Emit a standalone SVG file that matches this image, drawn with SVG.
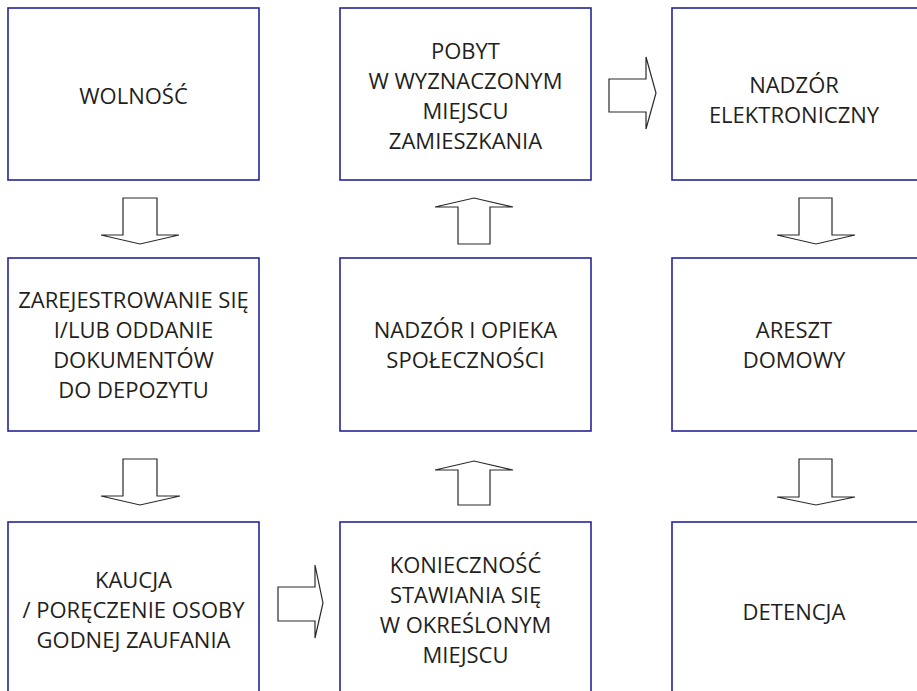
<svg xmlns="http://www.w3.org/2000/svg" width="917" height="691" viewBox="0 0 917 691">
<style>
.box{fill:#fff;stroke:#25259a;stroke-width:1.6}
.t{font-family:"Open Sans","Liberation Sans",sans-serif;font-size:22px;fill:#231f20;text-anchor:middle}
.arr{fill:#fff;stroke:#2a2a2a;stroke-width:1.2;stroke-linejoin:miter}
</style>
<rect width="917" height="691" fill="#fff"/>
<g id="connectors">
<polygon class="arr" points="123,198 157,198 157,235 179,235 140,244 101,235 123,235"/>
<polygon class="arr" points="123,459 157,459 157,496 180,496 140,505 101,496 123,496"/>
<polygon class="arr" points="458,244 490,244 490,207 513,207 474,198 435,207 458,207"/>
<polygon class="arr" points="458,505 490,505 490,470 513,470 474,461 435,470 458,470"/>
<polygon class="arr" points="799,198 832,198 832,235 855,235 816,244 777,235 799,235"/>
<polygon class="arr" points="799,459 832,459 832,497 855,497 816,505 777,497 799,497"/>
<polygon class="arr" points="609,79 646,79 646,57 656,93 646,129 646,112 609,112"/>
<polygon class="arr" points="278,587 315,587 315,565 323,603 315,638 315,621 278,621"/>
</g>
<g id="n-wolnosc"><rect class="box" x="8" y="8" width="251" height="172"/><text class="t" x="133.5" y="104">WOLNOŚĆ</text></g>
<g id="n-pobyt"><rect class="box" x="340" y="8" width="251" height="172"/><text class="t" x="465.5" y="59">POBYT</text><text class="t" x="465.5" y="89">W WYZNACZONYM</text><text class="t" x="465.5" y="119">MIEJSCU</text><text class="t" x="465.5" y="149">ZAMIESZKANIA</text></g>
<g id="n-nadzor-el"><rect class="box" x="672" y="8" width="251" height="172"/><text class="t" x="794" y="93">NADZÓR</text><text class="t" x="794" y="123">ELEKTRONICZNY</text></g>
<g id="n-zarejestrowanie"><rect class="box" x="8" y="258" width="251" height="173"/><text class="t" x="133.5" y="308">ZAREJESTROWANIE SIĘ</text><text class="t" x="133.5" y="338">I/LUB ODDANIE</text><text class="t" x="133.5" y="368">DOKUMENTÓW</text><text class="t" x="133.5" y="398">DO DEPOZYTU</text></g>
<g id="n-nadzor-opieka"><rect class="box" x="340" y="258" width="251" height="173"/><text class="t" x="465.5" y="338">NADZÓR I OPIEKA</text><text class="t" x="465.5" y="368">SPOŁECZNOŚCI</text></g>
<g id="n-areszt"><rect class="box" x="672" y="258" width="251" height="173"/><text class="t" x="794" y="338">ARESZT</text><text class="t" x="794" y="368">DOMOWY</text></g>
<g id="n-kaucja"><rect class="box" x="8" y="522" width="251" height="175"/><text class="t" x="133.5" y="588">KAUCJA</text><text class="t" x="133.5" y="618">/ PORĘCZENIE OSOBY</text><text class="t" x="133.5" y="648">GODNEJ ZAUFANIA</text></g>
<g id="n-koniecznosc"><rect class="box" x="340" y="522" width="251" height="175"/><text class="t" x="465.5" y="573">KONIECZNOŚĆ</text><text class="t" x="465.5" y="603">STAWIANIA SIĘ</text><text class="t" x="465.5" y="633">W OKREŚLONYM</text><text class="t" x="465.5" y="663">MIEJSCU</text></g>
<g id="n-detencja"><rect class="box" x="672" y="522" width="251" height="175"/><text class="t" x="794" y="620">DETENCJA</text></g>
</svg>
